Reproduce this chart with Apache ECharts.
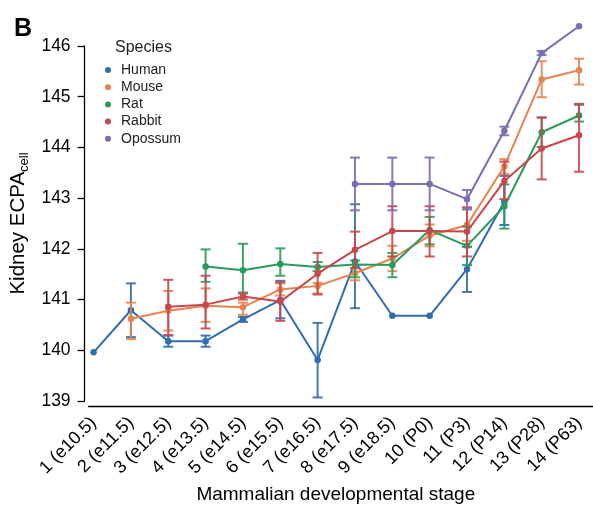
<!DOCTYPE html>
<html>
<head>
<meta charset="utf-8">
<script src="https://cdn.jsdelivr.net/npm/echarts@6/dist/echarts.min.js"></script>
<style>
  html, body { margin: 0; padding: 0; background: #fff; }
  #chart { width: 593px; height: 510px; }
</style>
</head>
<body>
<div id="chart"></div>
<script>
// Developmental stages shown on the x axis
const stages = ['1 (e10.5)', '2 (e11.5)', '3 (e12.5)', '4 (e13.5)', '5 (e14.5)', '6 (e15.5)',
  '7 (e16.5)', '8 (e17.5)', '9 (e18.5)', '10 (P0)', '11 (P3)', '12 (P14)', '13 (P28)', '14 (P63)'];

const speciesNames = ['Human', 'Mouse', 'Rat', 'Rabbit', 'Opossum'];
const speciesColors = ['#2f6db0', '#e6834f', '#2b9a5d', '#c6474c', '#7b6db1'];

const yTicks = [139, 140, 141, 142, 143, 144, 145, 146];

// Mean kidney ECPA per stage, with lower / upper ends of the error bars
const humanMean = [139.96, 140.79, 140.18, 140.18, 140.61, 140.99, 139.81, 141.75, 140.68, 140.68, 141.60, 142.93, null, null];
const humanLow  = [null, 140.26, 140.07, 140.07, 140.56, 140.63, 139.07, 140.83, null, null, 141.15, 142.47, null, null];
const humanHigh = [null, 141.32, 140.29, 140.29, 140.66, 141.37, 140.54, 142.88, null, null, 142.04, 143.44, null, null];

const mouseMean = [null, 140.62, 140.78, 140.88, 140.85, 141.20, 141.27, 141.52, 141.81, 142.26, 142.47, 143.63, 145.34, 145.52];
const mouseLow  = [null, 140.22, 140.39, 140.56, 140.70, 141.08, 141.12, 141.38, 141.56, 142.05, 142.16, 143.48, 144.99, 145.24];
const mouseHigh = [null, 140.94, 141.17, 141.22, 140.94, 141.32, 141.33, 141.62, 142.06, 142.48, 142.78, 143.77, 145.70, 145.75];

const ratMean = [null, null, null, 141.65, 141.58, 141.70, 141.64, 141.69, 141.68, 142.37, 142.06, 142.84, 144.30, 144.63];
const ratLow  = [null, null, null, 141.35, 141.14, 141.47, 141.56, 141.44, 141.44, 142.09, 141.68, 142.40, 144.01, 144.51];
const ratHigh = [null, null, null, 141.99, 142.10, 142.01, 141.74, 141.77, 141.92, 142.63, 142.44, 143.27, 144.59, 144.84];

const rabbitMean = [null, null, 140.86, 140.90, 141.06, 140.96, 141.51, 141.98, 142.35, 142.35, 142.34, 143.34, 143.98, 144.24];
const rabbitLow  = [null, null, 140.30, 140.43, 141.00, 140.58, 141.10, 141.62, 141.85, 141.85, 141.85, 142.98, 143.37, 143.52];
const rabbitHigh = [null, null, 141.39, 141.47, 141.12, 141.34, 141.92, 142.34, 142.84, 142.84, 142.82, 143.72, 144.59, 144.86];

const opossumMean = [null, null, null, null, null, null, null, 143.28, 143.28, 143.28, 142.98, 144.33, 145.86, 146.39];
const opossumLow  = [null, null, null, null, null, null, null, 142.76, 142.76, 142.76, 142.78, 144.24, 145.82, null];
const opossumHigh = [null, null, null, null, null, null, null, 143.80, 143.80, 143.80, 143.16, 144.41, 145.90, null];

const means = [humanMean, mouseMean, ratMean, rabbitMean, opossumMean];
const lows = [humanLow, mouseLow, ratLow, rabbitLow, opossumLow];
const highs = [humanHigh, mouseHigh, ratHigh, rabbitHigh, opossumHigh];

const FONT = '"Liberation Sans", Arial, Helvetica, sans-serif';
const chart = echarts.init(document.getElementById('chart'), null, { renderer: 'canvas' });

// Vertical whisker with a cap at each end
function errorBarItem(color) {
  return function (params, api) {
    const x = api.value(0);
    const lo = api.coord([x, api.value(1)]);
    const hi = api.coord([x, api.value(2)]);
    const half = 5;
    const style = { stroke: color, lineWidth: 2, opacity: 0.9 };
    return {
      type: 'group',
      children: [
        { type: 'line', shape: { x1: lo[0], y1: lo[1], x2: hi[0], y2: hi[1] }, style: style },
        { type: 'line', shape: { x1: lo[0] - half, y1: lo[1], x2: lo[0] + half, y2: lo[1] }, style: style },
        { type: 'line', shape: { x1: hi[0] - half, y1: hi[1], x2: hi[0] + half, y2: hi[1] }, style: style }
      ]
    };
  };
}

const series = [];
speciesNames.forEach(function (name, k) {
  const color = speciesColors[k];
  const pts = [];
  const bars = [];
  means[k].forEach(function (v, i) {
    if (v !== null) pts.push([i + 1, v]);
    if (lows[k][i] !== null && highs[k][i] !== null) bars.push([i + 1, lows[k][i], highs[k][i]]);
  });
  series.push({
    type: 'custom',
    name: name,
    color: color,
    itemStyle: { color: color },
    renderItem: errorBarItem(color),
    data: bars,
    clip: false,
    z: 2 + k * 2,
    silent: true,
    encode: { x: 0, y: [1, 2] }
  });
  series.push({
    type: 'line',
    name: name,
    data: pts,
    color: color,
    symbol: 'circle',
    symbolSize: 6.5,
    showSymbol: true,
    clip: false,
    z: 3 + k * 2,
    lineStyle: { width: 2, color: color },
    itemStyle: { color: color },
    animation: false
  });
});

chart.setOption({
  animation: false,
  backgroundColor: '#fff',
  grid: { left: 87, right: 0, top: 46, bottom: 109, containLabel: false },
  xAxis: {
    type: 'value',
    min: 0.867,
    max: 14.374,
    offset: 5,
    splitLine: { show: false },
    axisLine: { show: true, lineStyle: { color: '#000', width: 1.3 } },
    axisTick: { show: false },
    axisLabel: {
      customValues: stages.map(function (s, i) { return i + 1; }),
      formatter: function (v) { return stages[Math.round(v) - 1] || ''; },
      rotate: 45,
      margin: 14,
      color: '#000',
      fontSize: 18,
      fontFamily: FONT
    },
    name: 'Mammalian developmental stage',
    nameLocation: 'middle',
    nameGap: 79,
    nameTextStyle: { color: '#000', fontSize: 19, fontFamily: FONT, padding: [0, 10, 0, 0] }
  },
  yAxis: {
    type: 'value',
    min: 139,
    max: 146,
    interval: 1,
    offset: 4,
    splitLine: { show: false },
    axisLine: { show: true, lineStyle: { color: '#000', width: 1.3 } },
    axisTick: { show: true, length: 7, lineStyle: { color: '#000', width: 1.3 } },
    axisLabel: {
      color: '#000',
      fontSize: 17.5,
      fontFamily: FONT,
      margin: 14,
      customValues: yTicks
    },
    name: '{a|Kidney ECPA}{b|cell}',
    nameLocation: 'middle',
    nameGap: 50,
    nameTextStyle: {
      color: '#000',
      fontFamily: FONT,
      rich: {
        a: { fontSize: 20.5, fontFamily: FONT, color: '#000' },
        b: { fontSize: 13, fontFamily: FONT, color: '#000', verticalAlign: 'bottom', padding: [11, 0, 0, 0] }
      }
    }
  },
  legend: {
    orient: 'vertical',
    left: 105,
    top: 63,
    padding: 0,
    itemWidth: 16,
    itemHeight: 6,
    itemGap: 3.2,
    icon: 'circle',
    data: speciesNames,
    textStyle: { color: '#222', fontSize: 14, lineHeight: 14, fontFamily: FONT }
  },
  graphic: [
    {
      type: 'text',
      left: 14,
      top: 17,
      style: { text: 'B', fontSize: 25, fontWeight: 'bold', fill: '#000', fontFamily: FONT }
    },
    {
      type: 'text',
      left: 115,
      top: 40,
      style: { text: 'Species', fontSize: 16, fill: '#222', fontFamily: FONT }
    }
  ],
  series: series
});
</script>
</body>
</html>
